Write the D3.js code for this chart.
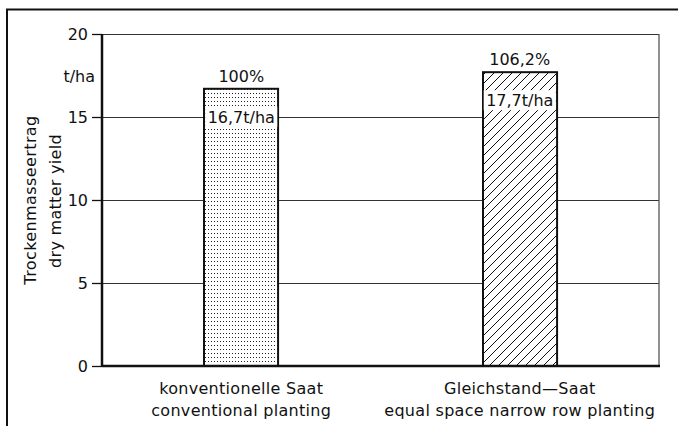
<!DOCTYPE html>
<html><head><meta charset="utf-8">
<script src="https://cdn.jsdelivr.net/npm/d3@7"></script>
<style>
html,body{margin:0;padding:0;background:#fff;}
text{font-family:"DejaVu Sans",sans-serif;fill:#111;}
</style></head>
<body>
<svg id="c" width="678" height="426"></svg>
<script>
// Data
const categoriesDe = ["konventionelle Saat", "Gleichstand\u2014Saat"];
const categoriesEn = ["conventional planting", "equal space narrow row planting"];
const yieldValues = [16.7, 17.7];
const valueLabels = ["16,7t/ha", "17,7t/ha"];
const percentLabels = ["100%", "106,2%"];
const yTicks = [0, 5, 10, 15, 20];
const yTitle = ["Trockenmasseertrag", "dry matter yield"];
const yUnit = "t/ha";

(function () {
const svg = d3.select("#c");
const mLeft = 102, mRight = 659, mTop = 34, mBottom = 366;

// outer frame
svg.append("rect").attr("x", 7).attr("y", 9.5).attr("width", 700).attr("height", 500)
  .attr("fill", "none").attr("stroke", "#111").attr("stroke-width", 2);

const x = d3.scaleBand().domain(d3.range(categoriesDe.length)).range([mLeft, mRight]).paddingInner(0).paddingOuter(0);
const y = d3.scaleLinear().domain([0, 20]).range([mBottom, mTop]);
const barW = x.bandwidth() * 0.266;

// patterns
const defs = svg.append("defs");
const dots = defs.append("pattern").attr("id", "dots").attr("patternUnits", "userSpaceOnUse")
  .attr("width", 3).attr("height", 4);
dots.append("rect").attr("width", 3).attr("height", 4).attr("fill", "#fff");
dots.append("rect").attr("x", 1).attr("y", 1).attr("width", 1).attr("height", 1).attr("fill", "#222");
const hatch = defs.append("pattern").attr("id", "hatch").attr("patternUnits", "userSpaceOnUse")
  .attr("width", 9).attr("height", 9);
hatch.append("rect").attr("width", 9).attr("height", 9).attr("fill", "#fff");
hatch.append("path").attr("d", "M-1,10 L10,-1 M-1,1 L1,-1 M8,10 L10,8").attr("stroke", "#111").attr("stroke-width", 1);
const fills = ["url(#dots)", "url(#hatch)"];

// grid lines
svg.append("g").selectAll("line").data(yTicks.filter(d => d > 0)).join("line")
  .attr("x1", mLeft).attr("x2", mRight).attr("y1", d => y(d)).attr("y2", d => y(d))
  .attr("stroke", "#333").attr("stroke-width", 1).attr("shape-rendering", "crispEdges");
// right border
svg.append("line").attr("x1", mRight).attr("x2", mRight).attr("y1", y(20)).attr("y2", y(0))
  .attr("stroke", "#555").attr("stroke-width", 1.3);

// y axis
const yAxis = d3.axisLeft(y).tickValues(yTicks).tickSize(10).tickPadding(4);
const ga = svg.append("g").attr("transform", `translate(${mLeft},0)`).call(yAxis);
ga.select(".domain").remove();
ga.selectAll(".tick line").attr("stroke", "#111").attr("stroke-width", 1.3);
ga.selectAll(".tick text").attr("font-size", 16).attr("font-family", "DejaVu Sans").attr("fill", "#111");

// bars
svg.append("g").selectAll("rect").data(yieldValues).join("rect")
  .attr("x", (d, i) => Math.round(x(i) + x.bandwidth() / 2 - barW / 2))
  .attr("y", d => y(d)).attr("width", barW).attr("height", d => y(0) - y(d))
  .attr("fill", (d, i) => fills[i]).attr("stroke", "#111").attr("stroke-width", 2);

// axis lines
svg.append("line").attr("x1", mLeft).attr("x2", mLeft).attr("y1", y(20)).attr("y2", y(0) + 1)
  .attr("stroke", "#111").attr("stroke-width", 2.5);
svg.append("line").attr("x1", mLeft).attr("x2", mRight + 1).attr("y1", y(0)).attr("y2", y(0))
  .attr("stroke", "#111").attr("stroke-width", 2.5);

// labels
yieldValues.forEach((v, i) => {
  const cx = x(i) + x.bandwidth() / 2;
  const ly = y(v) + 28;
  svg.append("rect").attr("x", cx - barW / 2 + 1).attr("y", ly - 10).attr("width", barW - 2).attr("height", 20).attr("fill", "#fff");
  svg.append("text").attr("x", cx).attr("y", ly + 6).attr("text-anchor", "middle").attr("font-size", 16).text(valueLabels[i]);
  svg.append("text").attr("x", cx).attr("y", y(v) - 7).attr("text-anchor", "middle").attr("font-size", 16).text(percentLabels[i]);
  svg.append("text").attr("x", cx).attr("y", 394).attr("text-anchor", "middle").attr("font-size", 16)
    .attr("letter-spacing", 0.3).text(categoriesDe[i]);
  svg.append("text").attr("x", cx).attr("y", 416).attr("text-anchor", "middle").attr("font-size", 16)
    .attr("letter-spacing", 0.3).text(categoriesEn[i]);
});

// y unit and title
svg.append("text").attr("x", 95).attr("y", 82).attr("text-anchor", "end").attr("font-size", 16).text(yUnit);
svg.append("text").attr("transform", "translate(36,200) rotate(-90)").attr("text-anchor", "middle").attr("font-size", 16)
  .attr("letter-spacing", 0.4).text(yTitle[0]);
svg.append("text").attr("transform", "translate(61,201) rotate(-90)").attr("text-anchor", "middle").attr("font-size", 16)
  .attr("letter-spacing", 0.3).text(yTitle[1]);
})();
</script>
</body></html>
